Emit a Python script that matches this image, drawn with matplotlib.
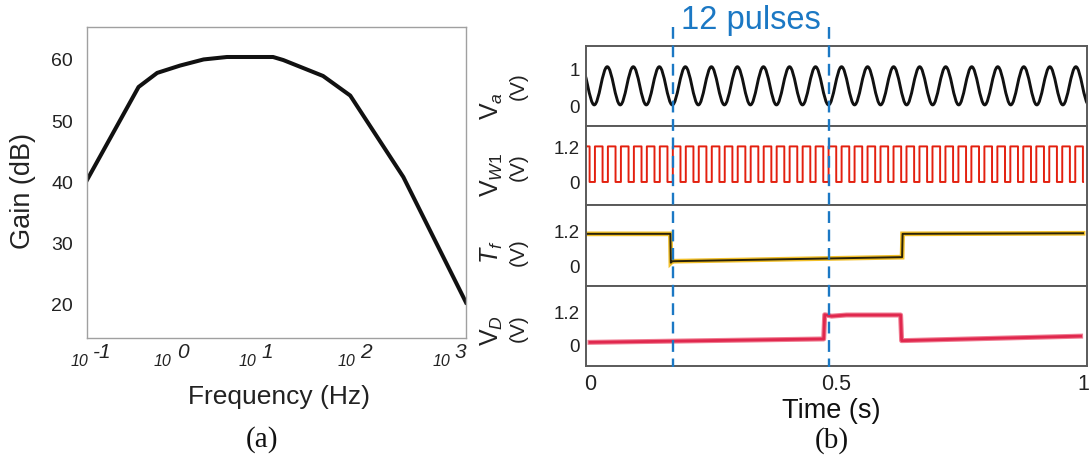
import numpy as np
import matplotlib
matplotlib.use('Agg')
import matplotlib.pyplot as plt
from matplotlib.path import Path
from matplotlib.patches import PathPatch
from matplotlib.lines import Line2D
from matplotlib.transforms import blended_transform_factory

plt.rcParams['font.family'] = ['Liberation Sans', 'DejaVu Sans']
plt.rcParams['mathtext.fontset'] = 'custom'
plt.rcParams['mathtext.rm'] = 'Liberation Sans'
plt.rcParams['mathtext.it'] = 'Liberation Sans:italic'
plt.rcParams['mathtext.bf'] = 'Liberation Sans:bold'

# ---------------- data: panel (a) ----------------
freq_hz = [0.1, 0.35, 0.55, 0.96, 1.7, 3.0, 9.2, 11.8, 31, 60, 218, 1000]
gain_db = [40.2, 55.4, 57.7, 58.9, 59.9, 60.3, 60.3, 59.8, 57.2, 54.0, 40.7, 20.2]
freq_ticks = [0.1, 1, 10, 100, 1000]
freq_tick_exps = ['-1', '0', '1', '2', '3']
gain_ticks = [20, 30, 40, 50, 60]

# ---------------- data: panel (b) ----------------
# Va: times and values of successive peaks / troughs of the sinusoid
va_extrema_t = [-0.0178, 0.0086, 0.0350, 0.0614, 0.0878, 0.1142, 0.1406, 0.1670,
                0.1934, 0.2198, 0.2462, 0.2726, 0.2990, 0.3254, 0.3518, 0.3782,
                0.4046, 0.4310, 0.4574, 0.4838, 0.5102, 0.5366, 0.5630, 0.5894,
                0.6158, 0.6422, 0.6686, 0.6950, 0.7214, 0.7478, 0.7742, 0.8006,
                0.8270, 0.8534, 0.8798, 0.9062, 0.9326, 0.9590, 0.9854, 1.0118]
va_extrema_v = [1.06, 0.03, 1.06, 0.03, 1.06, 0.03, 1.06, 0.03,
                1.06, 0.03, 1.06, 0.03, 1.06, 0.03, 1.06, 0.03,
                1.06, 0.03, 1.06, 0.03, 1.06, 0.03, 1.06, 0.03,
                1.06, 0.03, 1.06, 0.03, 1.06, 0.03, 1.06, 0.03,
                1.06, 0.03, 1.06, 0.03, 1.06, 0.03, 1.06, 0.03]

# Vw1: rising / falling edge times of the write pulses
vw1_rise_t = [-0.0163, 0.0100, 0.0363, 0.0627, 0.0890, 0.1153, 0.1416, 0.1680,
              0.1943, 0.2206, 0.2470, 0.2733, 0.2996, 0.3259, 0.3523, 0.3786,
              0.4049, 0.4313, 0.4576, 0.4839, 0.5103, 0.5366, 0.5629, 0.5892,
              0.6156, 0.6419, 0.6682, 0.6946, 0.7209, 0.7472, 0.7735, 0.7999,
              0.8262, 0.8525, 0.8789, 0.9052, 0.9315, 0.9578, 0.9842]
vw1_fall_t = [-0.0008, 0.0255, 0.0518, 0.0782, 0.1045, 0.1308, 0.1571, 0.1835,
              0.2098, 0.2361, 0.2625, 0.2888, 0.3151, 0.3414, 0.3678, 0.3941,
              0.4204, 0.4468, 0.4731, 0.4994, 0.5258, 0.5521, 0.5784, 0.6047,
              0.6311, 0.6574, 0.6837, 0.7101, 0.7364, 0.7627, 0.7890, 0.8154,
              0.8417, 0.8680, 0.8944, 0.9207, 0.9470, 0.9733, 0.9997]
vw1_high = 1.22
vw1_low = 0.0
vw1_end_t = 1.0

# Tf trace
tf_t = [-0.009, 0.163, 0.164, 0.167, 0.633, 0.634, 1.0]
tf_v = [1.07, 1.07, 0.08, 0.13, 0.27, 1.07, 1.09]

# VD trace
vd_t = [0.0, 0.474, 0.476, 0.49, 0.52, 0.630, 0.632, 0.995]
vd_v = [0.09, 0.21, 1.07, 1.02, 1.06, 1.06, 0.15, 0.31]

# the 12-pulse window
pulse_window_t = [0.169, 0.485]
pulse_window_label = '12 pulses'

time_ticks = [0, 0.5, 1]
time_tick_labels = ['0', '0.5', '1']
va_ticks = [0, 1]
va_tick_labels = ['0', '1']
v12_ticks = [0, 1.2]
v12_tick_labels = ['0', '1.2']

# ---------------- figure ----------------
W, H = 1089, 456
fig = plt.figure(figsize=(W / 100, H / 100), dpi=100)


def fax(l, t, r, b):
    return fig.add_axes([l / W, 1 - b / H, (r - l) / W, (b - t) / H])


# ===== panel (a) =====
ax1 = fax(87, 28, 466, 339)
ax1.plot(freq_hz, gain_db, color='#111111', lw=2.9, solid_joinstyle='round')
ax1.set_xscale('log')
ax1.set_xlim(0.1, 1000)
ax1.set_ylim(14.4, 65.2)
ax1.set_yticks(gain_ticks)
ax1.set_yticklabels([str(g) for g in gain_ticks])
ax1.set_xticks(freq_ticks)
ax1.set_xticklabels([])
ax1.minorticks_off()
ax1.tick_params(axis='both', length=0)
ax1.tick_params(axis='y', labelsize=14, pad=10, colors='#222222')
for s in ax1.spines.values():
    s.set_color('#a0a0a0')
    s.set_linewidth(1.0)

base_offsets_px = [1, -10, -20, -16, -16]
for f, e, off in zip(freq_ticks, freq_tick_exps, base_offsets_px):
    ax1.annotate('10', xy=(f, 0), xycoords=('data', 'axes fraction'),
                 xytext=(off * 0.72, -23 * 0.72), textcoords='offset points',
                 ha='right', va='center', fontsize=11.5, style='italic',
                 color='#222222', annotation_clip=False)
    ax1.annotate(e, xy=(f, 0), xycoords=('data', 'axes fraction'),
                 xytext=((off + 5) * 0.72, -14 * 0.72), textcoords='offset points',
                 ha='left', va='center', fontsize=15, style='italic',
                 color='#222222', annotation_clip=False)

fig.text(279 / W, 1 - 397 / H, 'Frequency (Hz)', ha='center', va='center',
         fontsize=19, color='#222222')
fig.text(23 / W, 1 - 191 / H, 'Gain (dB)', ha='center', va='center',
         rotation=90, fontsize=19.5, color='#222222')
fig.text(262 / W, 1 - 440 / H, '(a)', ha='center', va='center',
         fontsize=21, family='Liberation Serif', color='#111111')

# ===== panel (b) =====
panel_px = [(47, 127), (127, 206), (206, 287), (287, 367)]
axs = []
for i, (t, b) in enumerate(panel_px):
    a = fax(586, t, 1087, b) if i == 0 else fig.add_axes(
        [586 / W, 1 - b / H, 501 / W, (b - t) / H], sharex=axs[0])
    axs.append(a)

xlim = (-0.0081, 1.008)
ylims = [(-0.54, 1.62), (-0.79, 1.92), (-0.72, 2.06), (-0.75, 2.09)]
for a, yl in zip(axs, ylims):
    a.set_xlim(*xlim)
    a.set_ylim(*yl)
    a.tick_params(axis='both', length=0)
    a.tick_params(axis='y', labelsize=13.5, pad=4.5, colors='#222222')
    for s in a.spines.values():
        s.set_color('#5a5a5a')
        s.set_linewidth(1.4)
for a in axs[:-1]:
    a.tick_params(axis='x', labelbottom=False)

# Va - smooth curve through successive extrema (cubic Bezier segments)
k = 0.3634
verts = [(va_extrema_t[0], va_extrema_v[0])]
codes = [Path.MOVETO]
for (t0, v0), (t1, v1) in zip(zip(va_extrema_t[:-1], va_extrema_v[:-1]),
                              zip(va_extrema_t[1:], va_extrema_v[1:])):
    dt = t1 - t0
    verts += [(t0 + k * dt, v0), (t1 - k * dt, v1), (t1, v1)]
    codes += [Path.CURVE4] * 3
axs[0].add_patch(PathPatch(Path(verts, codes), fill=False, edgecolor='#111111',
                           lw=2.1, capstyle='round', joinstyle='round'))
axs[0].set_yticks(va_ticks)
axs[0].set_yticklabels(va_tick_labels)

# Vw1 - pulse train
wt, wv = [xlim[0]], [vw1_high]
for r, f in zip(vw1_rise_t, vw1_fall_t):
    wt += [r, r, f, f]
    wv += [vw1_low, vw1_high, vw1_high, vw1_low]
wt.append(vw1_end_t)
wv.append(vw1_low)
axs[1].plot(wt, wv, color='#e3200f', lw=1.4)
axs[1].set_yticks(v12_ticks)
axs[1].set_yticklabels(v12_tick_labels)

# Tf
axs[2].plot(tf_t, tf_v, color='#f2c02a', lw=3.4, solid_joinstyle='miter')
axs[2].plot(tf_t, tf_v, color='#2a2208', lw=1.4)
axs[2].set_yticks(v12_ticks)
axs[2].set_yticklabels(v12_tick_labels)

# VD
axs[3].plot(vd_t, vd_v, color='#f07a90', lw=3.6)
axs[3].plot(vd_t, vd_v, color='#e0284e', lw=2.0)
axs[3].set_yticks(v12_ticks)
axs[3].set_yticklabels(v12_tick_labels)
axs[3].set_xticks(time_ticks)
axs[3].set_xticklabels(time_tick_labels)
axs[3].tick_params(axis='x', labelsize=15.5, pad=5, colors='#222222')

# y labels (symbol + unit)
sym_labels = [r'$\mathrm{V}_{a}$', r'$\mathrm{V}_{\mathit{W1}}$', r'$T_{f}$', r'$\mathrm{V}_{D}$']
sym_y = [0.26, 0.39, 0.43, 0.46]
unit_y = [0.51, 0.49, 0.43, 0.49]
for a, lab, sy, uy in zip(axs, sym_labels, sym_y, unit_y):
    a.text(-0.188, sy, lab, transform=a.transAxes, rotation=90,
           ha='center', va='center', fontsize=18, color='#222222')
    a.text(-0.136, uy, '(V)', transform=a.transAxes, rotation=90,
           ha='center', va='center', fontsize=15, color='#222222')

# dashed marker lines spanning all panels
trans = blended_transform_factory(axs[0].transData, fig.transFigure)
for t in pulse_window_t:
    fig.add_artist(Line2D([t, t], [1 - 28 / H, 1 - 368 / H], transform=trans,
                          color='#1b78c4', lw=1.7, ls=(0, (5, 2.8))))
fig.text(np.mean(pulse_window_t), 1 - 21 / H, pulse_window_label, transform=trans,
         ha='center', va='center', fontsize=23.5, color='#1b78c4')

fig.text(831 / W, 1 - 411 / H, 'Time (s)', ha='center', va='center',
         fontsize=19.5, color='#111111')
fig.text(832 / W, 1 - 441 / H, '(b)', ha='center', va='center',
         fontsize=21, family='Liberation Serif', color='#111111')

fig.savefig('out.png', dpi=100)
